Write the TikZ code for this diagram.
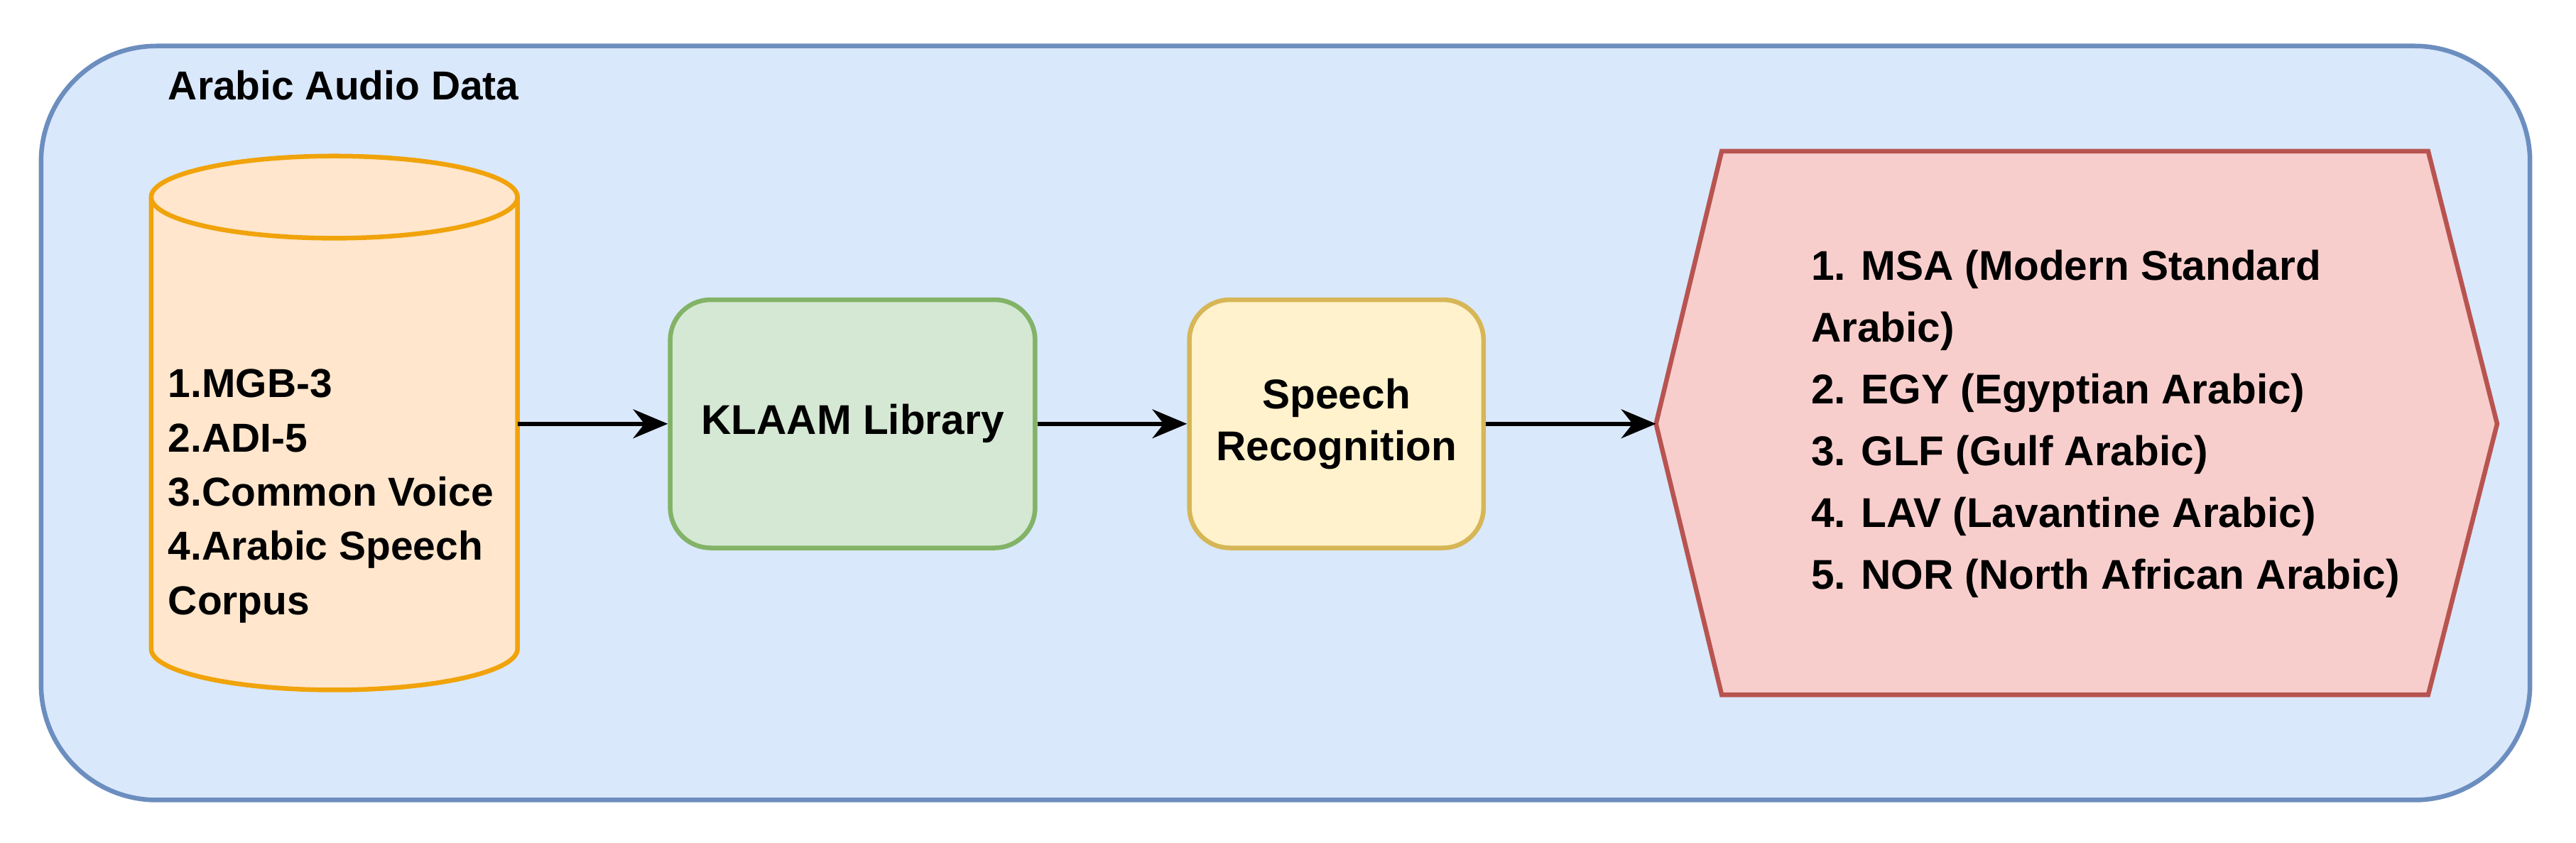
\documentclass[tikz,border=0pt]{standalone}
\usepackage{fontspec}
\setmainfont{Liberation Sans}
\usetikzlibrary{positioning,shapes.geometric,arrows.meta}
\definecolor{blueF}{HTML}{DAE8FC}\definecolor{blueD}{HTML}{6C8EBF}
\definecolor{orgF}{HTML}{FFE6CC}\definecolor{orgD}{HTML}{F0A30A}
\definecolor{grnF}{HTML}{D5E8D4}\definecolor{grnD}{HTML}{82B366}
\definecolor{yelF}{HTML}{FFF2CC}\definecolor{yelD}{HTML}{D6B656}
\definecolor{redF}{HTML}{F8CECC}\definecolor{redD}{HTML}{B85450}
\tikzset{
  box/.style={rounded corners=7pt, line width=0.8pt, align=center,
    font=\bfseries\fontsize{7.2}{9}\selectfont},
  flow/.style={-{Stealth[length=6pt,width=5pt]}, line width=0.8pt},
}
\begin{document}
\begin{tikzpicture}[x=0.01cm,y=-0.01cm]
  \useasboundingbox (0,0) rectangle (1568,513);
  % container
  \draw[fill=blueF, draw=blueD, line width=0.8pt, rounded corners=20pt]
    (25,28) rectangle (1540,487);
  \node[anchor=west, font=\bfseries\fontsize{7}{9}\selectfont] (title) at (90,52) {Arabic Audio Data};
  % data sources
  \draw[draw=orgD, fill=orgF, line width=0.8pt]
    (92,120) -- (92,395) arc[start angle=180, end angle=360, x radius=111.5, y radius=-25]
    -- (315,120) arc[start angle=0, end angle=180, x radius=111.5, y radius=-25];
  \draw[draw=orgD, line width=0.8pt]
    (92,120) arc[start angle=180, end angle=360, x radius=111.5, y radius=-25];
  \coordinate (dbR) at (315,258);
  \node[anchor=west, align=left, font=\bfseries\fontsize{7}{9.4}\selectfont] (dbtext) at (90,302)
    {1.MGB-3\\2.ADI-5\\3.Common Voice\\4.Arabic Speech\\Corpus};
  \node[box, fill=grnF, draw=grnD, minimum width=2.22cm, minimum height=1.51cm] (klaam) at (519,258) {KLAAM Library};
  \node[box, fill=yelF, draw=yelD, minimum width=1.79cm, minimum height=1.51cm] (asr) at (813.5,258) {Speech\\Recognition};
  % dialects
  \coordinate (hexL) at (1008,258);
  \draw[fill=redF, draw=redD, line width=0.8pt]
    (hexL) -- (1048,92) -- (1478,92) -- (1520,258) -- (1478,423) -- (1048,423) -- cycle;
  \node[anchor=west, align=left, font=\bfseries\fontsize{7.2}{10.7}\selectfont] (dialects) at (1090,258)
    {1. MSA (Modern Standard\\Arabic)\\2. EGY (Egyptian Arabic)\\3. GLF (Gulf Arabic)\\4. LAV (Lavantine Arabic)\\5. NOR (North African Arabic)};
  \draw[flow] (dbR) -- (klaam);
  \draw[flow] (klaam) -- (asr);
  \draw[flow] (asr) -- (hexL);
\end{tikzpicture}
\end{document}
